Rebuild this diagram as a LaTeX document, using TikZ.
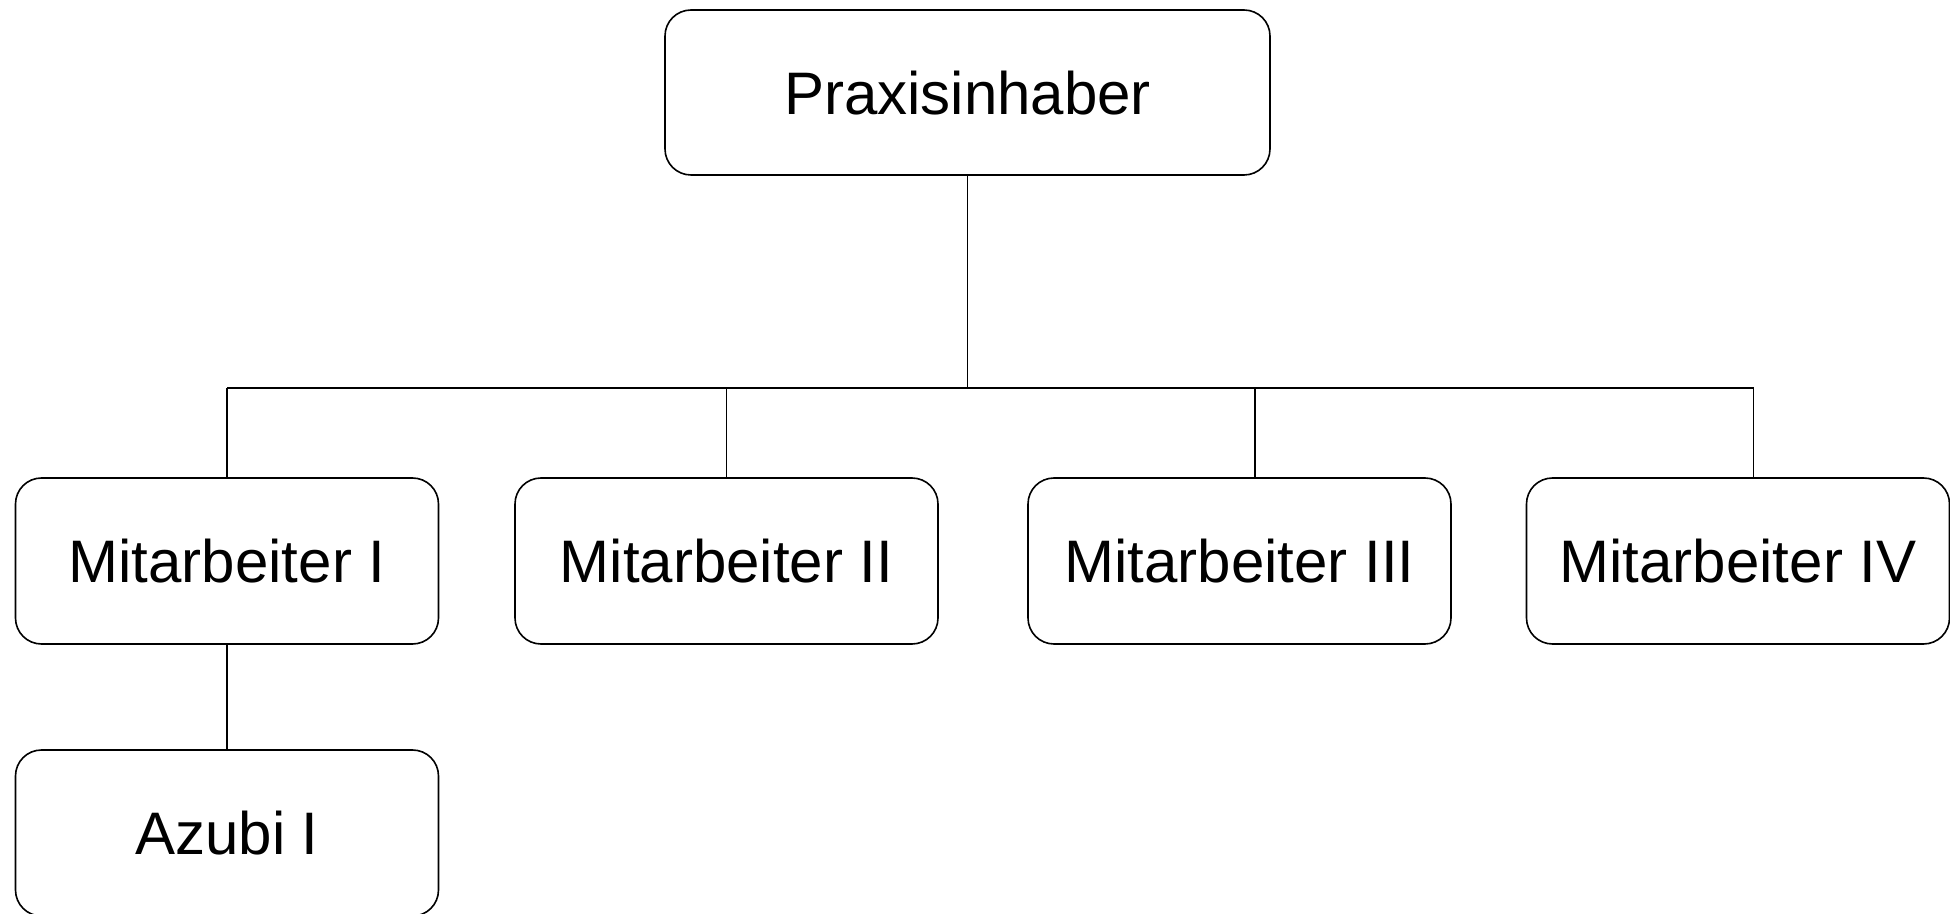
\documentclass[tikz,border=0pt]{standalone}
\usepackage{fontspec}
\setmainfont{Liberation Sans}
\begin{document}
\begin{tikzpicture}[x=0.5pt,y=-0.5pt,
  orgbox/.style={draw, line width=0.8pt, rounded corners=13pt, inner sep=0pt,
    minimum width=211.5pt, minimum height=83pt, text depth=0pt,
    font=\fontsize{30pt}{36pt}\selectfont},
  link/.style={draw, line width=0.8pt}]
\useasboundingbox (0,0) rectangle (1950,914);
\node[orgbox, minimum width=302.5pt, minimum height=82.5pt] (P) at (967.5,92.5) {Praxisinhaber};
\node[orgbox] (M1) at (227,561) {Mitarbeiter I};
\node[orgbox] (M2) at (726.5,561) {Mitarbeiter II};
\node[orgbox] (M3) at (1239.5,561) {Mitarbeiter III};
\node[orgbox] (M4) at (1738,561) {Mitarbeiter IV};
\node[orgbox] (A) at (227,833) {Azubi I};
\coordinate (bus) at (967.5,388);
\coordinate (j1) at (227,388);
\coordinate (j2) at (726.5,388);
\coordinate (j3) at (1255,388);
\coordinate (j4) at (1753.5,388);
\draw[link] (P.south) -- (bus);
\draw[link] (j1) -- (j4);
\draw[link] (j1) -- (M1.north);
\draw[link] (j2) -- (M2.north);
\draw[link] (j3) -- (j3 |- M3.north);
\draw[link] (j4) -- (j4 |- M4.north);
\draw[link] (M1.south) -- (A.north);
\end{tikzpicture}
\end{document}
